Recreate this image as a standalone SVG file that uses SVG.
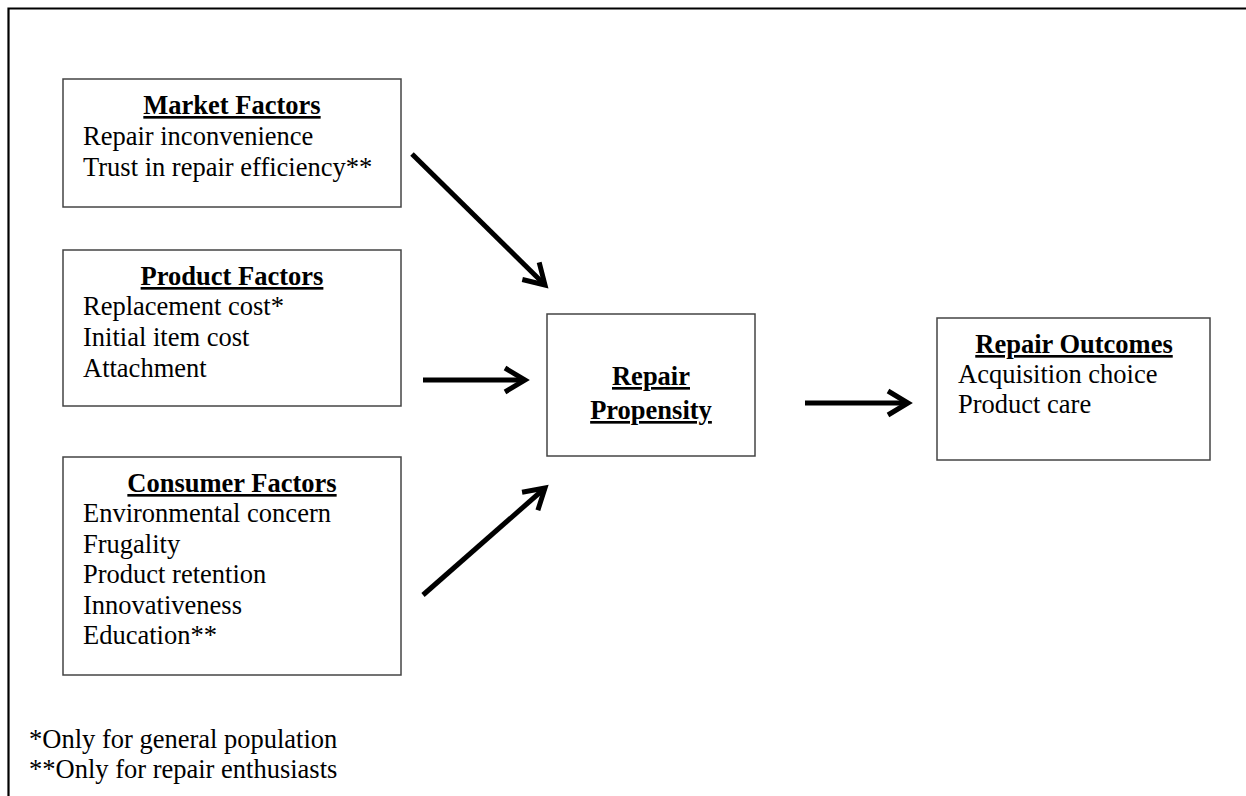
<svg xmlns="http://www.w3.org/2000/svg" width="1246" height="796" viewBox="0 0 1246 796">
<style>
  text { font-family: "Liberation Serif", "Times New Roman", serif; font-size: 26.5px; fill: #000; }
  .t { font-weight: bold; text-decoration: underline; text-anchor: middle; }
  .box { fill: #fff; stroke: #444; stroke-width: 1.5; }
  .conn { stroke: #000; stroke-width: 5; fill: none; }
  .frame { stroke: #000; stroke-width: 2.2; fill: none; }
</style>
<defs>
  <marker id="ah" markerUnits="userSpaceOnUse" viewBox="-30 -16 34 32" markerWidth="34" markerHeight="32" refX="0" refY="0" orient="auto" overflow="visible">
    <path d="M-20,-12 L0,0 L-20,12" fill="none" stroke="#000" stroke-width="5" stroke-linejoin="miter"/>
  </marker>
</defs>
<rect width="1246" height="796" fill="#fff"/>
<path class="frame" d="M1246,8.5 H8.5 V796"/>

<g id="market">
  <rect class="box" x="63" y="79" width="338" height="128"/>
  <text class="t" x="232" y="114">Market Factors</text>
  <text x="83" y="145">Repair inconvenience</text>
  <text x="83" y="176">Trust in repair efficiency**</text>
</g>
<g id="product">
  <rect class="box" x="63" y="250" width="338" height="156"/>
  <text class="t" x="232" y="285">Product Factors</text>
  <text x="83" y="315">Replacement cost*</text>
  <text x="83" y="346">Initial item cost</text>
  <text x="83" y="377">Attachment</text>
</g>
<g id="consumer">
  <rect class="box" x="63" y="457" width="338" height="218"/>
  <text class="t" x="232" y="492">Consumer Factors</text>
  <text x="83" y="522">Environmental concern</text>
  <text x="83" y="553">Frugality</text>
  <text x="83" y="583">Product retention</text>
  <text x="83" y="614">Innovativeness</text>
  <text x="83" y="644">Education**</text>
</g>
<g id="propensity">
  <rect class="box" x="547" y="314" width="208" height="142"/>
  <text class="t" x="651" y="385">Repair</text>
  <text class="t" x="651" y="419">Propensity</text>
</g>
<g id="outcomes">
  <rect class="box" x="937" y="318" width="273" height="142"/>
  <text class="t" x="1074" y="353">Repair Outcomes</text>
  <text x="958" y="383">Acquisition choice</text>
  <text x="958" y="413">Product care</text>
</g>
<g id="footnotes">
  <text x="29" y="748">*Only for general population</text>
  <text x="29" y="778">**Only for repair enthusiasts</text>
</g>

<g id="connectors">
  <line class="conn" x1="412" y1="154" x2="545" y2="285" marker-end="url(#ah)"/>
  <line class="conn" x1="423" y1="380" x2="525" y2="380" marker-end="url(#ah)"/>
  <line class="conn" x1="805" y1="403" x2="908" y2="403" marker-end="url(#ah)"/>
  <line class="conn" x1="423" y1="595" x2="545" y2="488" marker-end="url(#ah)"/>
</g>
</svg>
